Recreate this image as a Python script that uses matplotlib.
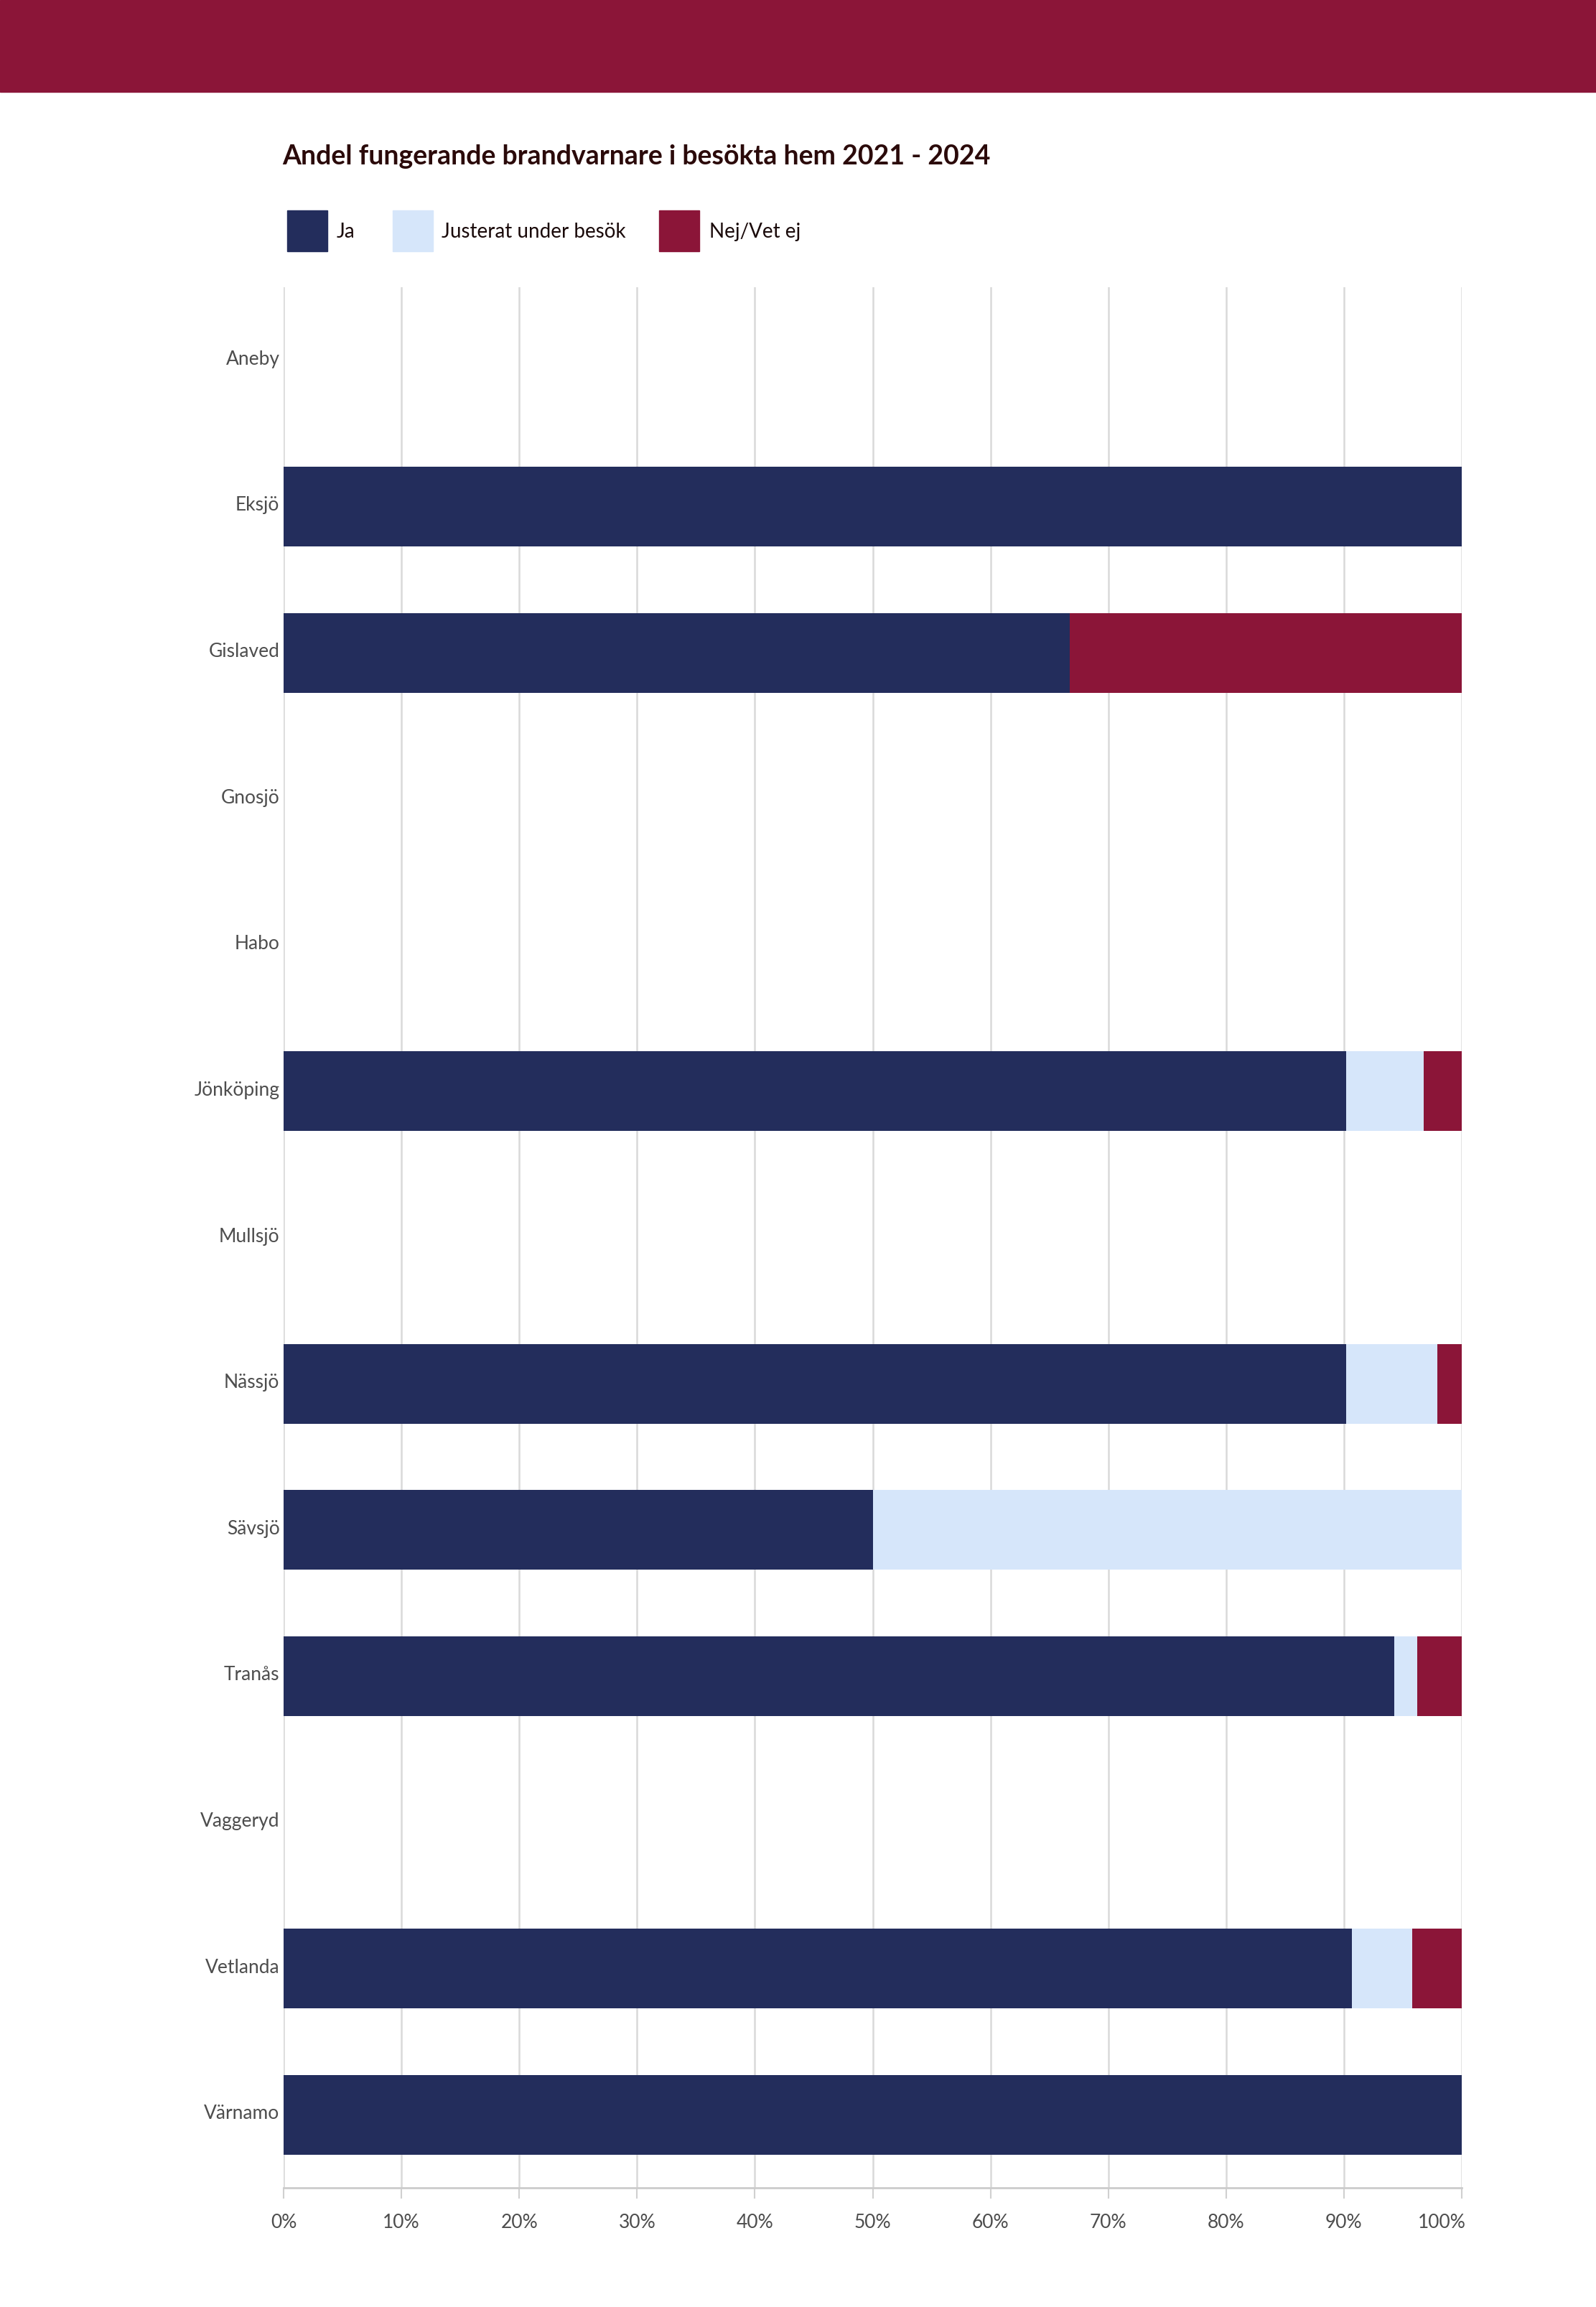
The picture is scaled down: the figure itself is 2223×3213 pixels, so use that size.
import numpy as np
import matplotlib.pyplot as plt
from matplotlib.patches import Rectangle
from matplotlib.transforms import ScaledTranslation

# Data (share in %)
kommuner = ["Aneby", "Eksjö", "Gislaved", "Gnosjö", "Habo", "Jönköping", "Mullsjö",
            "Nässjö", "Sävsjö", "Tranås", "Vaggeryd", "Vetlanda", "Värnamo"]
ja = [0, 100, 66.7, 0, 0, 90.2, 0, 90.2, 50, 94.3, 0, 90.7, 100]
justerat = [0, 0, 0, 0, 0, 6.6, 0, 7.7, 50, 1.9, 0, 5.1, 0]
nej = [0, 0, 33.3, 0, 0, 3.2, 0, 2.1, 0, 3.8, 0, 4.2, 0]
series = ["Ja", "Justerat under besök", "Nej/Vet ej"]
colors = ["#232D5C", "#D6E6FA", "#8B1538"]
xticks = np.arange(0, 101, 10)

W, H = 2223, 3213
fig = plt.figure(figsize=(W / 100, H / 100), dpi=100)
plt.rcParams['font.family'] = ['Lato', 'DejaVu Sans']

# header band
fig.patches.append(Rectangle((0, 1 - 128 / H), 1, 128 / H, transform=fig.transFigure,
                             color="#8B1538", zorder=0))

ax = fig.add_axes([395 / W, 1 - 3047 / H, (2036 - 395) / W, (3047 - 400) / H])

y = np.arange(len(kommuner))
left = np.zeros(len(kommuner))
for vals, col, name in zip([ja, justerat, nej], colors, series):
    ax.barh(y, vals, left=left, height=0.545, color=col, label=name, zorder=3)
    left += np.array(vals)

ax.set_ylim(len(kommuner) - 0.5, -0.5)
ax.set_xlim(0, 100)
ax.set_yticks(y)
ax.set_yticklabels(kommuner, fontsize=19, color="#4d4d4d")
ax.set_xticks(xticks)
ax.set_xticklabels([f"{v}%" for v in xticks], fontsize=19, color="#4d4d4d")
ax.tick_params(axis="y", length=0, pad=4)
ax.tick_params(axis="x", length=11, width=1.5, color="#d0d0d0", pad=15)
ax.grid(axis="x", color="#d9d9d9", linewidth=1.8, zorder=0)
for s in ["top", "right", "left"]:
    ax.spines[s].set_visible(False)
ax.spines["bottom"].set_color("#cccccc")
ax.spines["bottom"].set_linewidth(2)

# nudge y labels up a little, keep last x label inside the plot
up = ScaledTranslation(0, 4 / 100, fig.dpi_scale_trans)
for lab in ax.get_yticklabels():
    lab.set_transform(lab.get_transform() + up)
ax.get_xticklabels()[-1].set_ha("right")
last = ax.get_xticklabels()[-1]
last.set_transform(last.get_transform() + ScaledTranslation(6 / 100, 0, fig.dpi_scale_trans))

# title
fig.text(393 / W, 1 - 229 / H, "Andel fungerande brandvarnare i besökta hem 2021 - 2024",
         fontsize=27, fontweight="bold", color="#2B0A0A", va="baseline", ha="left")

# legend
sq_x = [400, 547, 918]
txt_x = [469, 615, 988]
for sx, tx, name, col in zip(sq_x, txt_x, series, colors):
    fig.patches.append(Rectangle((sx / W, 1 - 350 / H), 56 / W, 57 / H,
                                 transform=fig.transFigure, color=col))
    fig.text(tx / W, 1 - 323 / H, name, fontsize=20, color="#1a0a0a",
             va="center", ha="left")

fig.savefig("out.png", dpi=100, facecolor="white")
